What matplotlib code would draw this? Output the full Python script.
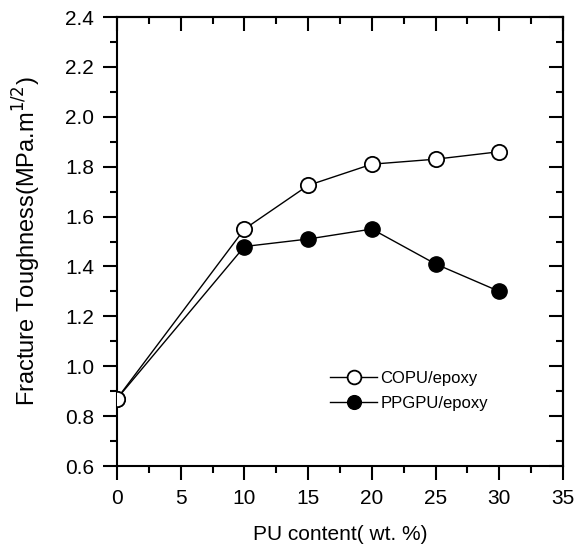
import matplotlib
matplotlib.use('Agg')
import matplotlib.pyplot as plt
from matplotlib.ticker import MultipleLocator, FormatStrFormatter

plt.rcParams['font.family'] = ['Liberation Sans', 'DejaVu Sans']

pu_content = [0, 10, 15, 20, 25, 30]
copu = [0.87, 1.55, 1.725, 1.81, 1.83, 1.86]
ppgpu = [0.87, 1.48, 1.51, 1.55, 1.41, 1.30]

fig = plt.figure(figsize=(5.83, 5.54), dpi=100)
ax = fig.add_axes([0.2007, 0.1588, 0.765, 0.8105])

ax.plot(pu_content, ppgpu, color='black', lw=1.0, marker='o', ms=11,
        mfc='black', mec='black', label='PPGPU/epoxy', zorder=3)
ax.plot(pu_content, copu, color='black', lw=1.0, marker='o', ms=11,
        mfc='white', mec='black', mew=1.3, label='COPU/epoxy', zorder=4)

ax.set_xlim(0, 35)
ax.set_ylim(0.6, 2.4)
ax.xaxis.set_major_locator(MultipleLocator(5))
ax.xaxis.set_minor_locator(MultipleLocator(2.5))
ax.yaxis.set_major_locator(MultipleLocator(0.2))
ax.yaxis.set_minor_locator(MultipleLocator(0.1))
ax.yaxis.set_major_formatter(FormatStrFormatter('%.1f'))

for s in ax.spines.values():
    s.set_linewidth(1.5)
ax.tick_params(which='both', direction='out', width=1.5, labelsize=15, pad=6.5)
ax.tick_params(which='major', length=10)
ax.tick_params(which='minor', length=5)

# ticks on top and right point inward, no labels
sx = ax.secondary_xaxis('top')
sx.xaxis.set_major_locator(MultipleLocator(5))
sx.xaxis.set_minor_locator(MultipleLocator(2.5))
sy = ax.secondary_yaxis('right')
sy.yaxis.set_major_locator(MultipleLocator(0.2))
sy.yaxis.set_minor_locator(MultipleLocator(0.1))
for sec in (sx, sy):
    for s in sec.spines.values():
        s.set_linewidth(1.5)
    sec.tick_params(which='both', direction='in', width=1.5,
                    labeltop=False, labelright=False)
    sec.tick_params(which='major', length=10)
    sec.tick_params(which='minor', length=5)

ax.set_xlabel('PU content( wt. %)', fontsize=15, labelpad=12)
ax.set_ylabel('Fracture Toughness(MPa.m$^{1/2}$)', fontsize=17, labelpad=16)

h, l = ax.get_legend_handles_labels()
ax.legend(h[::-1], l[::-1], loc='center left', bbox_to_anchor=(0.478, 0.168),
          frameon=False, fontsize=12, handlelength=2.8, handletextpad=0.2,
          labelspacing=0.6, borderpad=0, borderaxespad=0, markerscale=0.9)

fig.savefig('out.png', dpi=100)
